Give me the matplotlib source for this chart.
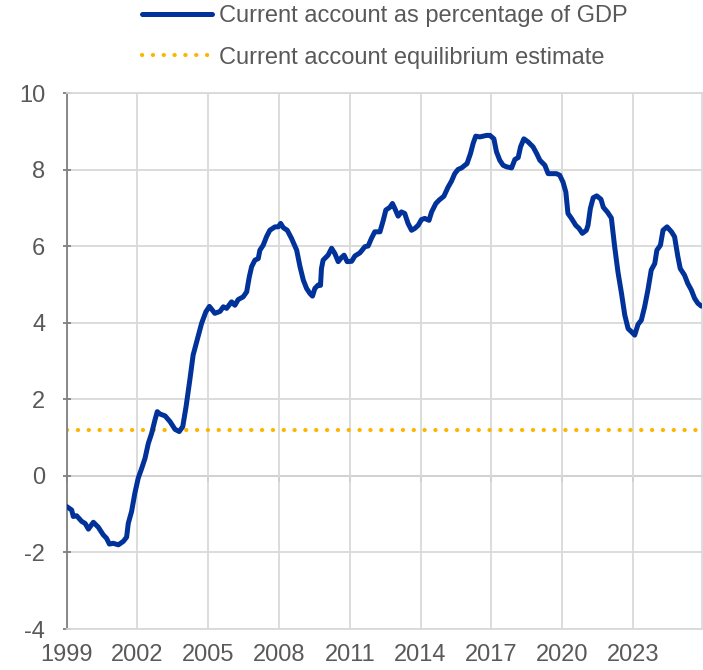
import matplotlib
matplotlib.use("Agg")
import matplotlib.pyplot as plt

years = [
    1999.00, 1999.21, 1999.28, 1999.42, 1999.64, 1999.78, 1999.92, 2000.13, 2000.34, 2000.55,
    2000.69, 2000.81, 2000.97, 2001.19, 2001.40, 2001.54, 2001.61, 2001.75, 2001.89, 2002.03,
    2002.18, 2002.32, 2002.46, 2002.60, 2002.74, 2002.84, 2002.95, 2003.17, 2003.38, 2003.59,
    2003.77, 2003.92, 2004.06, 2004.22, 2004.36, 2004.53, 2004.72, 2004.90, 2005.05, 2005.28,
    2005.50, 2005.64, 2005.78, 2005.99, 2006.13, 2006.27, 2006.48, 2006.63, 2006.74, 2006.84,
    2006.98, 2007.12, 2007.19, 2007.33, 2007.47, 2007.61, 2007.83, 2007.97, 2008.07, 2008.18,
    2008.35, 2008.53, 2008.75, 2008.89, 2009.03, 2009.17, 2009.31, 2009.42, 2009.52, 2009.66,
    2009.76, 2009.80, 2009.87, 2010.08, 2010.23, 2010.37, 2010.51, 2010.65, 2010.76, 2010.89,
    2011.08, 2011.22, 2011.43, 2011.64, 2011.78, 2011.92, 2012.06, 2012.28, 2012.42, 2012.53,
    2012.70, 2012.81, 2012.91, 2013.05, 2013.19, 2013.33, 2013.47, 2013.62, 2013.76, 2013.90,
    2014.04, 2014.18, 2014.36, 2014.47, 2014.65, 2014.79, 2014.99, 2015.17, 2015.31, 2015.45,
    2015.59, 2015.74, 2015.88, 2015.97, 2016.12, 2016.23, 2016.34, 2016.51, 2016.65, 2016.80,
    2016.94, 2017.11, 2017.22, 2017.36, 2017.50, 2017.64, 2017.86, 2018.00, 2018.14, 2018.24,
    2018.38, 2018.56, 2018.77, 2018.92, 2019.06, 2019.27, 2019.41, 2019.55, 2019.76, 2019.90,
    2020.04, 2020.16, 2020.25, 2020.40, 2020.58, 2020.72, 2020.86, 2021.03, 2021.10, 2021.20,
    2021.32, 2021.47, 2021.65, 2021.75, 2021.93, 2022.09, 2022.23, 2022.37, 2022.52, 2022.66,
    2022.80, 2022.97, 2023.08, 2023.22, 2023.36, 2023.50, 2023.64, 2023.78, 2023.93, 2024.02,
    2024.17, 2024.28, 2024.45, 2024.64, 2024.77, 2024.91, 2025.01, 2025.19, 2025.33, 2025.48,
    2025.62, 2025.76, 2025.90,
]
current_account = [
    -0.80, -0.89, -1.06, -1.04, -1.19, -1.24, -1.39, -1.21, -1.34, -1.54,
    -1.63, -1.78, -1.76, -1.80, -1.71, -1.60, -1.24, -0.93, -0.45, -0.06,
    0.20, 0.46, 0.85, 1.11, 1.46, 1.68, 1.62, 1.57, 1.42, 1.22,
    1.16, 1.29, 1.81, 2.51, 3.16, 3.55, 3.99, 4.29, 4.43, 4.25,
    4.30, 4.42, 4.38, 4.55, 4.46, 4.61, 4.68, 4.81, 5.20, 5.47,
    5.64, 5.68, 5.90, 6.03, 6.25, 6.42, 6.51, 6.51, 6.60, 6.49,
    6.42, 6.21, 5.90, 5.47, 5.12, 4.90, 4.77, 4.70, 4.90, 4.99,
    4.98, 5.42, 5.64, 5.77, 5.95, 5.81, 5.60, 5.71, 5.77, 5.60,
    5.61, 5.75, 5.83, 5.99, 6.01, 6.21, 6.38, 6.38, 6.68, 6.95,
    7.02, 7.12, 6.99, 6.79, 6.90, 6.86, 6.60, 6.42, 6.47, 6.55,
    6.70, 6.73, 6.68, 6.90, 7.12, 7.21, 7.31, 7.55, 7.70, 7.90,
    8.01, 8.05, 8.12, 8.16, 8.43, 8.69, 8.88, 8.86, 8.88, 8.90,
    8.90, 8.81, 8.47, 8.25, 8.12, 8.08, 8.05, 8.27, 8.32, 8.60,
    8.81, 8.73, 8.60, 8.43, 8.25, 8.12, 7.90, 7.90, 7.90, 7.86,
    7.68, 7.42, 6.86, 6.73, 6.55, 6.47, 6.34, 6.42, 6.55, 6.99,
    7.27, 7.32, 7.23, 7.02, 6.89, 6.74, 5.99, 5.33, 4.77, 4.20,
    3.85, 3.75, 3.68, 3.96, 4.07, 4.42, 4.86, 5.38, 5.55, 5.90,
    6.03, 6.42, 6.51, 6.38, 6.25, 5.73, 5.42, 5.25, 5.03, 4.86,
    4.64, 4.51, 4.44,
]
equilibrium_years = [1999.0, 2025.92]
equilibrium_values = [1.2, 1.2]

x_ticks = [1999, 2002, 2005, 2008, 2011, 2014, 2017, 2020, 2023]
y_ticks = [-4, -2, 0, 2, 4, 6, 8, 10]
series_labels = ["Current account as percentage of GDP",
                 "Current account equilibrium estimate"]

plt.rcParams['font.family'] = ['Liberation Sans', 'DejaVu Sans']
plt.rcParams['axes.unicode_minus'] = False
text_color = '#595959'
grid_color = '#d9d9d9'
axis_color = '#808080'
fs = 17

fig = plt.figure(figsize=(7.03, 6.70), dpi=100)
ax = fig.add_axes([66.7 / 703, 1 - 629 / 670, (701.7 - 66.7) / 703, (629 - 93.3) / 670])

ax.plot(years, current_account, color='#003299', lw=3.6, solid_capstyle='round',
        solid_joinstyle='round', label=series_labels[0], zorder=3)
ax.plot(equilibrium_years, equilibrium_values, color='#FFB400', lw=3.0,
        linestyle=(0, (0.05, 2.55)), dash_capstyle='round', label=series_labels[1], zorder=2)

ax.set_xlim(1999.0, 2025.92)
ax.set_ylim(-4, 10)
ax.set_xticks(x_ticks)
ax.set_yticks(y_ticks)
ax.grid(True, color=grid_color, lw=1.3)
ax.set_axisbelow(True)

for side in ['top', 'right', 'bottom']:
    ax.spines[side].set_color(grid_color)
    ax.spines[side].set_linewidth(1.3)
ax.spines['left'].set_color(axis_color)
ax.spines['left'].set_linewidth(1.3)

ax.tick_params(axis='x', length=0, labelsize=fs, labelcolor=text_color, pad=11)
ax.tick_params(axis='y', direction='inout', length=6, width=1.3, color=axis_color,
               labelsize=fs, labelcolor=text_color, pad=12.5)

# zero axis line with ticks
sec = ax.secondary_xaxis(4 / 14)
sec.set_xticks(x_ticks)
sec.tick_params(axis='x', length=4, width=1.3, color=axis_color, labelbottom=False,
                labeltop=False)
for sp in sec.spines.values():
    sp.set_color(axis_color)
    sp.set_linewidth(1.3)

handles, labels = ax.get_legend_handles_labels()
leg = fig.legend(handles, labels, loc='upper left', bbox_to_anchor=(142 / 703, 1 - 5 / 670),
                 frameon=False, fontsize=fs, handlelength=2.95, handletextpad=0.3,
                 labelspacing=0.83, borderpad=0, borderaxespad=0)
for t in leg.get_texts():
    t.set_color(text_color)

fig.savefig('out.png', dpi=100)
